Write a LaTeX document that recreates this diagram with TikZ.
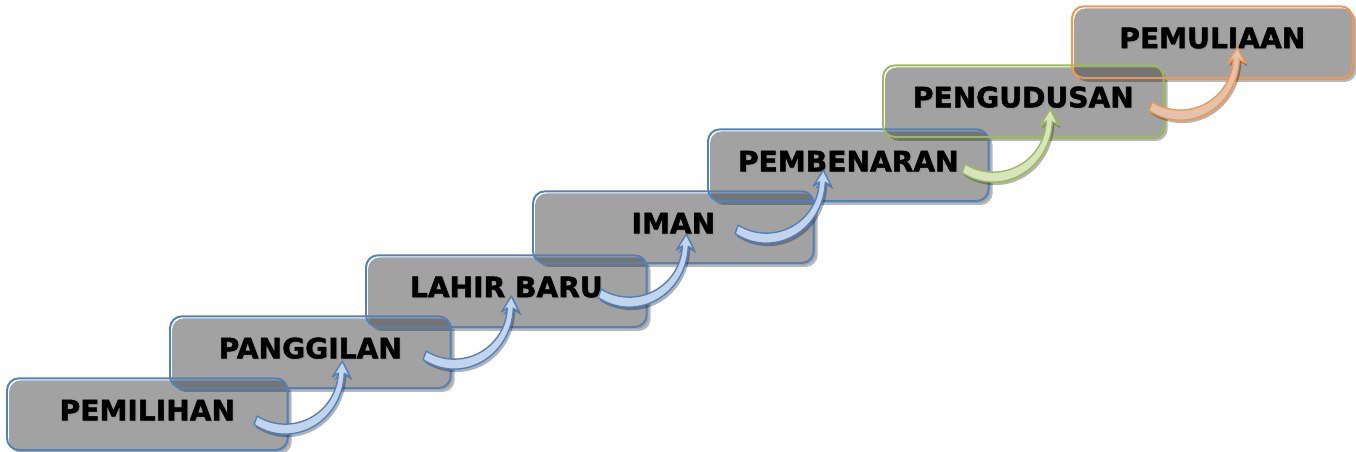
\documentclass[tikz,border=0pt]{standalone}
\usepackage{fontspec}
\setmainfont{DejaVu Sans}[BoldFeatures={FakeBold=1.6}]
\usetikzlibrary{calc}

\definecolor{stepblue}{HTML}{4F81BD}
\definecolor{stepgreen}{HTML}{9BBB59}
\definecolor{steporange}{HTML}{F79646}
\definecolor{boxgray}{HTML}{A2A2A2}
\definecolor{overlapgray}{HTML}{747474}
\definecolor{arrowblue}{HTML}{C3D5EC}
\definecolor{arrowgreen}{HTML}{D7E4BD}
\definecolor{arroworange}{HTML}{E4C3AE}

% shadow and grey body of one step (offset a little from its outline)
\newcommand{\stepbody}[1]{%
  \fill[black, opacity=.28, rounded corners=0.24cm]
    ($(#1.south west)+(4,-4)$) rectangle ($(#1.north east)+(4,-4)$);
  \fill[boxgray, rounded corners=0.24cm]
    ($(#1.south west)+(2,-2)$) rectangle ($(#1.north east)+(2,-2)$);
}
% darker band where step #2 lies over step #1
\newcommand{\stepoverlap}[2]{%
  \begin{scope}
    \clip[rounded corners=0.24cm]
      ($(#1.south west)+(2,-2)$) rectangle ($(#1.north east)+(2,-2)$);
    \fill[overlapgray, rounded corners=0.24cm]
      ($(#2.south west)+(2,-2)$) rectangle ($(#2.north east)+(2,-2)$);
  \end{scope}
}
% coloured outline of a step
\newcommand{\stepframe}[2]{%
  \draw[#2, line width=1.1pt, rounded corners=0.24cm]
    (#1.south west) rectangle (#1.north east);
}
% label with a soft shadow
\newcommand{\steptext}[2]{%
  \node[steplabel, text=black!40] at ($(#1.center)+(1.5,2.5)$) {#2};
  \node[steplabel] at ($(#1.center)+(0,4)$) {#2};
}
% curved riser arrow: starts right of the label of step #1 (tail offset #2)
% and turns up into the next step
\newcommand{\riser}[4]{%
  \begin{scope}[shift={($(#1.center)+(#2)+(30,50)$)}]
    \fill[black, opacity=.3, shift={(2,-3)}]
      (238:59 and 63) arc[start angle=238, end angle=358, x radius=59, y radius=63]
      -- (65,-6) -- (57,10) -- (47,-6)
      -- (358:53 and 53) arc[start angle=358, end angle=238, x radius=53, y radius=53]
      -- cycle;
    \filldraw[fill=#3, draw=#4, line width=0.8pt, line join=round]
      (238:59 and 63) arc[start angle=238, end angle=358, x radius=59, y radius=63]
      -- (65,-6) -- (57,10) -- (47,-6)
      -- (358:53 and 53) arc[start angle=358, end angle=238, x radius=53, y radius=53]
      -- cycle;
  \end{scope}
}

\begin{document}
\begin{tikzpicture}[x=0.02cm, y=0.02cm,
  stepslot/.style={minimum width=5.6cm, minimum height=1.42cm, inner sep=0pt,
    anchor=south west},
  steplabel/.style={font=\bfseries\fontsize{16}{16}\selectfont, inner sep=0pt}]
\useasboundingbox (0,0) rectangle (1356,452);

% places of the seven steps
\node[stepslot] (s1) at (7,2)     {};
\node[stepslot] (s2) at (170,64)  {};
\node[stepslot] (s3) at (366,125) {};
\node[stepslot] (s4) at (533,189) {};
\node[stepslot] (s5) at (708,251) {};
\node[stepslot] (s6) at (883,315) {};
\node[stepslot] (s7) at (1072,374) {};

% bodies
\stepbody{s1}
\stepbody{s2}
\stepbody{s3}
\stepbody{s4}
\stepbody{s5}
\stepbody{s6}
\stepbody{s7}

\stepoverlap{s1}{s2}
\stepoverlap{s2}{s3}
\stepoverlap{s3}{s4}
\stepoverlap{s4}{s5}
\stepoverlap{s5}{s6}
\stepoverlap{s6}{s7}

% outlines
\stepframe{s1}{stepblue}
\stepframe{s2}{stepblue}
\stepframe{s3}{stepblue}
\stepframe{s4}{stepblue}
\stepframe{s5}{stepblue}
\stepframe{s6}{stepgreen}
\stepframe{s7}{steporange}

% labels
\steptext{s1}{PEMILIHAN}
\steptext{s2}{PANGGILAN}
\steptext{s3}{LAHIR BARU}
\steptext{s4}{IMAN}
\steptext{s5}{PEMBENARAN}
\steptext{s6}{PENGUDUSAN}
\steptext{s7}{PEMULIAAN}

% arrows from each step up to the next
\riser{s1}{108,-7}{arrowblue}{stepblue}
\riser{s2}{114,-4}{arrowblue}{stepblue}
\riser{s3}{93,-3}{arrowblue}{stepblue}
\riser{s4}{63,-3}{arrowblue}{stepblue}
\riser{s5}{115,-4}{arrowgreen}{stepgreen}
\riser{s6}{127,-6}{arroworange}{steporange}
\end{tikzpicture}
\end{document}
